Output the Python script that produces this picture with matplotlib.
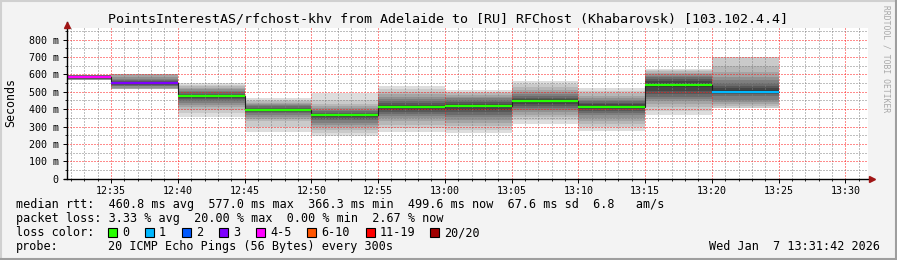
import datetime as dt
import numpy as np
import matplotlib
matplotlib.use("Agg")
import matplotlib.pyplot as plt
import matplotlib.dates as mdates
from matplotlib.ticker import MultipleLocator, FuncFormatter
from matplotlib.lines import Line2D
from matplotlib.patches import Rectangle

nan = np.nan

title = "PointsInterestAS/rfchost-khv from Adelaide to [RU] RFChost (Khabarovsk) [103.102.4.4]"
day = dt.date(2026, 1, 7)
graph_start = "12:31:42"
graph_end = "13:31:42"

# one smokeping round every 300s, start of each step (last step ends at 13:25)
step_start = ["12:31:42", "12:35", "12:40", "12:45", "12:50", "12:55",
              "13:00", "13:05", "13:10", "13:15", "13:20"]
step_end = "13:25"

median_ms = [584, 548, 473, 396, 367, 412, 417, 444, 415, 540, 501]
lost = [4, 3, 0, 0, 0, 0, 0, 0, 0, 0, 1]

# 20 sorted ping times per round (ms), lost pings are nan
pings_ms = [
    [560, 564, 566, 568, 569, 571, 573, 575, 578, 581, 586, 590, 593, 595, 597, 598, nan, nan, nan, nan],
    [505, 510, 514, 517, 524, 530, 535, 540, 544, 547, 550, 554, 560, 567, 575, 586, 604, nan, nan, nan],
    [356, 378, 396, 412, 425, 438, 448, 457, 465, 471, 475, 482, 489, 497, 505, 513, 522, 532, 541, 552],
    [271, 300, 329, 345, 357, 367, 375, 382, 389, 394, 398, 403, 409, 416, 423, 430, 437, 445, 452, 465],
    [246, 262, 280, 296, 310, 322, 335, 346, 356, 364, 369, 374, 380, 387, 396, 406, 418, 432, 455, 492],
    [267, 290, 310, 330, 348, 362, 374, 386, 397, 407, 416, 425, 435, 446, 458, 472, 486, 500, 515, 535],
    [262, 282, 302, 320, 338, 354, 368, 382, 396, 410, 422, 432, 442, 452, 462, 472, 482, 492, 500, 510],
    [315, 335, 352, 368, 382, 394, 405, 416, 428, 440, 448, 456, 465, 475, 486, 498, 512, 528, 545, 563],
    [275, 296, 316, 334, 350, 364, 377, 389, 400, 411, 419, 427, 436, 445, 455, 466, 478, 492, 506, 521],
    [367, 390, 410, 428, 444, 458, 472, 488, 506, 526, 546, 560, 572, 582, 591, 600, 609, 617, 625, 633],
    [398, 406, 418, 428, 440, 452, 474, 486, 494, 502, 510, 520, 533, 548, 565, 585, 612, 650, 702, nan],
]

loss_labels = ["0", "1", "2", "3", "4-5", "6-10", "11-19", "20/20"]
loss_upper = [0, 1, 2, 3, 5, 10, 19, 20]
loss_colors = ["#26ff00", "#00b8ff", "#0059ff", "#7e00ff", "#ff00ff", "#ff5500", "#ff0000", "#a00000"]

rtt_avg, rtt_max, rtt_min, rtt_now, rtt_sd, am_s = 460.8, 577.0, 366.3, 499.6, 67.6, 6.8
loss_avg, loss_max, loss_min, loss_now = 3.33, 20.00, 0.00, 2.67
probe = "20 ICMP Echo Pings (56 Bytes) every 300s"
stamp = "Wed Jan  7 13:31:42 2026"


def to_num(s):
    return mdates.date2num(dt.datetime.combine(day, dt.time.fromisoformat(s)))


W, H = 897, 260
MONO = "DejaVu Sans Mono"
plt.rcParams["font.family"] = MONO

fig = plt.figure(figsize=(W / 100, H / 100), dpi=100, facecolor="#f3f3f3")
# plot area in pixels: x 67..868, y 27.7..178.7
ax = fig.add_axes([67 / W, 1 - 178.7 / H, 801 / W, 151 / H])
ax.set_facecolor("white")

edges = np.array([to_num(s) for s in step_start] + [to_num(step_end)])

# smoke: band i between ping i and ping 20-i, outer light -> inner dark
half = 10
for k in range(len(median_ms)):
    p = pings_ms[k]
    for i in range(half):
        lo, hi = p[i], p[19 - i]
        if np.isnan(lo) or np.isnan(hi):
            continue
        g = int(190 / half * (half - (i + 1))) + 50
        ax.fill_between(edges[k:k + 2], lo, hi, color="#%02x%02x%02x" % (g, g, g),
                        lw=0, antialiased=False, zorder=1)

# median line
ax.stairs(median_ms, edges, color="#202020", lw=0.8, baseline=None, zorder=3)
cols = []
for n in lost:
    j = next(c for c, u in enumerate(loss_upper) if n <= u)
    cols.append(loss_colors[j])
ax.hlines(median_ms, edges[:-1], edges[1:], colors=cols, lw=1.6, zorder=4)

ax.set_xlim(to_num(graph_start), to_num(graph_end))
ax.set_ylim(0, 868)
ax.xaxis_date()
ax.xaxis.set_major_locator(mdates.MinuteLocator(byminute=range(0, 60, 5)))
ax.xaxis.set_minor_locator(mdates.MinuteLocator())
ax.xaxis.set_major_formatter(mdates.DateFormatter("%H:%M"))
ax.yaxis.set_major_locator(MultipleLocator(100))
ax.yaxis.set_minor_locator(MultipleLocator(50))
ax.yaxis.set_major_formatter(FuncFormatter(lambda v, _: "0" if v == 0 else "%d m" % v))

ax.set_axisbelow(False)
ax.grid(which="minor", color=(0.5, 0.5, 0.5, 0.3), ls=(0, (1, 2)), lw=0.72)
ax.grid(which="major", color=(1.0, 0.1, 0.1, 0.35), ls=(0, (1, 2)), lw=0.72)

for s in ax.spines.values():
    s.set_visible(False)
ax.tick_params(which="major", length=3, width=0.7, labelsize=7.2, color="black")
ax.tick_params(which="minor", length=1.5, width=0.6)
ax.tick_params(axis="x", which="major", pad=2.5)
ax.tick_params(axis="y", which="major", pad=3)

# axes with arrows
ax.plot([0, 0], [0, 1.035], transform=ax.transAxes, color="black", lw=1, clip_on=False, zorder=5)
ax.plot([-3 / 801, 1.006], [0, 0], transform=ax.transAxes, color="black", lw=1, clip_on=False, zorder=5)
ax.plot(0, 1 + 3 / 151, marker="^", ms=4.5, color="#a01515", transform=ax.transAxes, clip_on=False, zorder=6)
ax.plot(1 + 4 / 801, 0, marker=">", ms=4.5, color="#a01515", transform=ax.transAxes, clip_on=False, zorder=6)


def ftext(x, y, s, **kw):
    return fig.text(x / W, 1 - y / H, s, **kw)


ftext(448, 23, title, ha="center", va="baseline", fontsize=9.6)
ftext(11, 103, "Seconds", rotation=90, ha="center", va="center", fontsize=8.4)
ftext(886, 5, "RRDTOOL / TOBI OETIKER", rotation=270, ha="center", va="top", fontsize=5.8, color="#a8a8a8")

fs = 8.5
ftext(16, 208, "median rtt:  %.1f ms avg  %.1f ms max  %.1f ms min  %.1f ms now  %.1f ms sd  %.1f   am/s"
      % (rtt_avg, rtt_max, rtt_min, rtt_now, rtt_sd, am_s), va="baseline", fontsize=fs)
ftext(16, 222, "packet loss: %.2f %% avg  %.2f %% max  %.2f %% min  %.2f %% now"
      % (loss_avg, loss_max, loss_min, loss_now), va="baseline", fontsize=fs)
ftext(16, 236, "loss color:", va="baseline", fontsize=fs)
box_x = [108, 145, 182, 219, 256, 307, 366, 430]
for bx, lab, c in zip(box_x, loss_labels, loss_colors):
    fig.add_artist(Rectangle((bx / W, 1 - 237 / H), 9 / W, 9 / H, transform=fig.transFigure,
                             facecolor=c, edgecolor="black", lw=0.8))
    ftext(bx + 14, 236, lab, va="baseline", fontsize=fs)
ftext(16, 250, "probe:", va="baseline", fontsize=fs)
ftext(108, 250, probe, va="baseline", fontsize=fs)
ftext(880, 250, stamp, ha="right", va="baseline", fontsize=fs)

# 3d frame of the canvas
for xs, ys, c in [([0, W], [H - 1, H - 1], "#d0d0d0"), ([1, 1], [0, H], "#d0d0d0"),
                  ([0, W], [1, 1], "#9e9e9e"), ([W - 1, W - 1], [0, H], "#9e9e9e")]:
    fig.add_artist(Line2D(np.array(xs) / W, np.array(ys) / H, transform=fig.transFigure, color=c, lw=1.5))

fig.savefig("out.png", dpi=100, facecolor=fig.get_facecolor())
